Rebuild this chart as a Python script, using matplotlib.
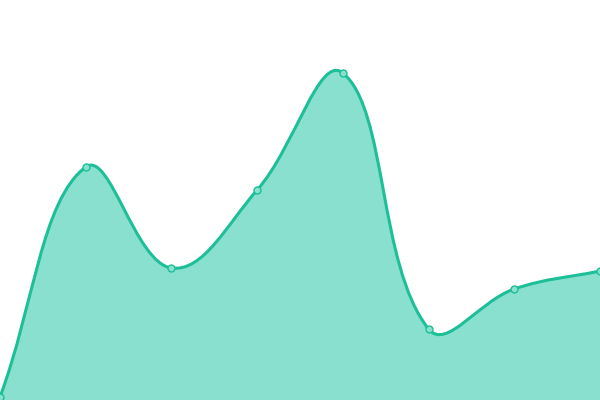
import numpy as np
import matplotlib
matplotlib.use("Agg")
import matplotlib.pyplot as plt
from matplotlib.path import Path
from matplotlib.patches import PathPatch

categories = ["A", "B", "C", "D", "E", "F", "G", "H"]
values = [3, 233, 132, 210, 327, 71, 111, 129]

LINE = "#1dbf98"
FILL = "#89e0cf"
TENSION = 0.4

fig = plt.figure(figsize=(6, 4), dpi=100)
ax = fig.add_axes([0, 0, 1, 1])
ax.set_xlim(0, len(categories) - 1)
ax.set_ylim(0, 400)
ax.axis("off")

xpos = np.arange(len(categories), dtype=float)
pts = ax.transData.transform(np.column_stack([xpos, values]))

# spline control points computed in pixel space (distance-weighted)
n = len(pts)
cp_prev = np.zeros_like(pts)
cp_next = np.zeros_like(pts)
for i in range(n):
    cur = pts[i]
    prev = pts[i - 1] if i > 0 else cur
    nxt = pts[i + 1] if i < n - 1 else cur
    d01 = np.hypot(*(cur - prev))
    d12 = np.hypot(*(nxt - cur))
    tot = d01 + d12
    s01 = d01 / tot if tot else 0
    s12 = d12 / tot if tot else 0
    cp_prev[i] = cur - TENSION * s01 * (nxt - prev)
    cp_next[i] = cur + TENSION * s12 * (nxt - prev)

inv = ax.transData.inverted()
P = inv.transform(pts)
CP = inv.transform(cp_prev)
CN = inv.transform(cp_next)

verts = [P[0]]
codes = [Path.MOVETO]
for i in range(n - 1):
    verts += [CN[i], CP[i + 1], P[i + 1]]
    codes += [Path.CURVE4] * 3

line_path = Path(verts, codes)
fill_path = Path(verts + [(P[-1][0], 0), (P[0][0], 0), P[0]],
                 codes + [Path.LINETO, Path.LINETO, Path.CLOSEPOLY])

ax.add_patch(PathPatch(fill_path, facecolor=FILL, edgecolor="none"))
ax.add_patch(PathPatch(line_path, facecolor="none", edgecolor=LINE,
                       linewidth=2.2))
ax.plot(xpos, values, linestyle="none", marker="o", markersize=5,
        markerfacecolor=FILL, markeredgecolor=LINE, markeredgewidth=1)
fig.savefig("out.png", dpi=100)
